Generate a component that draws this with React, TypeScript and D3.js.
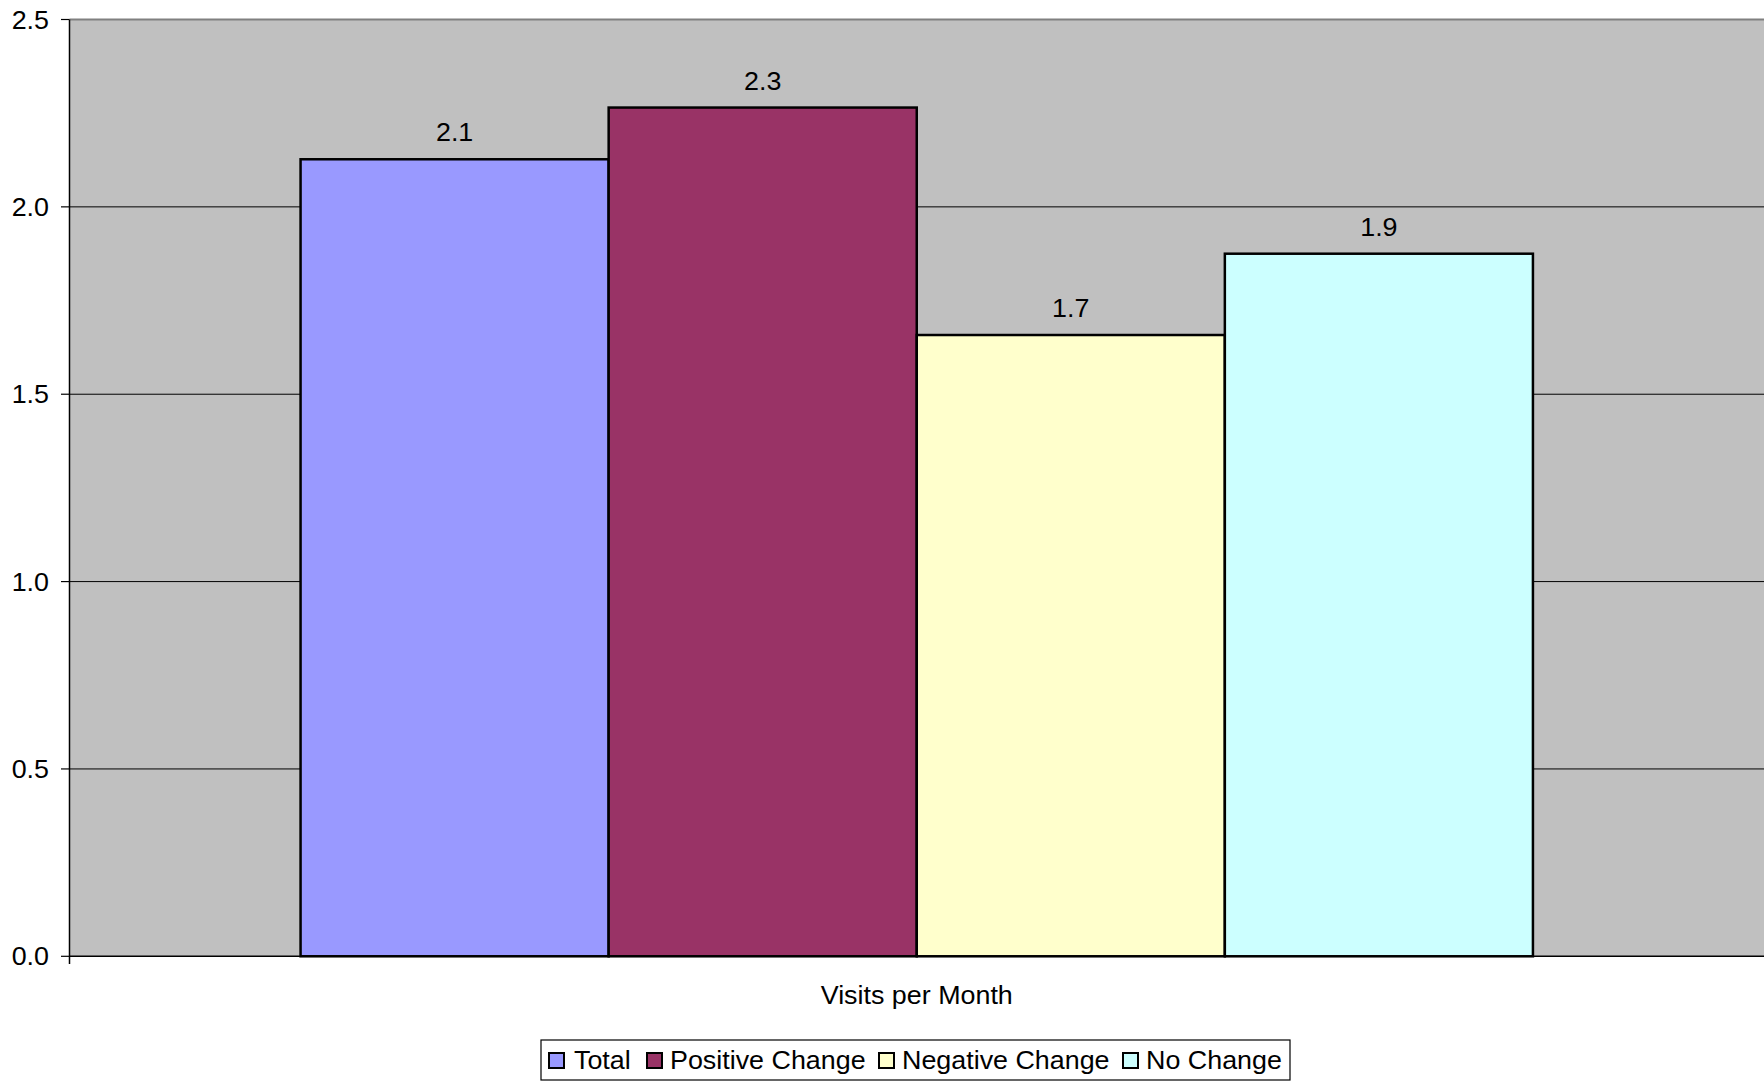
import React from "react";
import * as d3 from "d3";

const categories = ["Visits per Month"];
const seriesNames = ["Total", "Positive Change", "Negative Change", "No Change"];
const seriesValues = [2.127, 2.265, 1.658, 1.875];
const valueLabels = ["2.1", "2.3", "1.7", "1.9"];
const seriesColors = ["#9999FF", "#993366", "#FFFFCC", "#CCFFFF"];
const yTicks = [0, 0.5, 1, 1.5, 2, 2.5];

const W = 1764;
const H = 1082;
const FONT = "'Liberation Sans', Arial, sans-serif";
const SX = 1.075;

function T({ x, y, anchor, dy, children }: any) {
  return (
    <g transform={`translate(${x},${y}) scale(${SX},1)`}>
      <text x={0} y={0} dy={dy} textAnchor={anchor || "start"} fontSize={25} fill="#000">
        {children}
      </text>
    </g>
  );
}

export default function App() {
  const left = 69.5;
  const right = 1764;
  const top = 19.5;
  const bottom = 956.3;

  const y = d3.scaleLinear().domain([0, 2.5]).range([bottom, top]);
  const x0 = d3.scaleBand().domain(categories).range([left, right]).paddingInner(0).paddingOuter(0);
  const bw = x0.bandwidth();
  const barW = bw / (seriesNames.length + 1.5);
  const x1 = d3
    .scaleBand()
    .domain(seriesNames)
    .range([barW * 0.75, bw - barW * 0.75]);

  const legendItems = [
    { sw: 549, tx: 574 },
    { sw: 647, tx: 670 },
    { sw: 879, tx: 902 },
    { sw: 1123, tx: 1146 },
  ];

  return (
    <svg
      width={W}
      height={H}
      style={{ position: "absolute", left: 0, top: 0, display: "block", background: "#fff" }}
      fontFamily={FONT}
    >
      <rect x={left} y={top} width={right - left} height={bottom - top} fill="#C0C0C0" />
      {yTicks.map((t) => (
        <g key={t}>
          {t > 0 && t < 2.5 && (
            <line x1={left} x2={right} y1={y(t)} y2={y(t)} stroke="#000" strokeWidth={1} />
          )}
          <line x1={61} x2={left} y1={y(t)} y2={y(t)} stroke="#000" strokeWidth={1.2} />
          <T x={49} y={y(t)} dy="0.36em" anchor="end">
            {d3.format(".1f")(t)}
          </T>
        </g>
      ))}
      <line x1={left} x2={right} y1={top} y2={top} stroke="#808080" strokeWidth={2} />
      {categories.map((c) => (
        <g key={c}>
          {seriesNames.map((s, i) => {
            const bx = (x0(c) as number) + (x1(s) as number);
            return (
              <g key={s}>
                <rect
                  x={bx}
                  y={y(seriesValues[i])}
                  width={x1.bandwidth()}
                  height={bottom - y(seriesValues[i])}
                  fill={seriesColors[i]}
                  stroke="#000"
                  strokeWidth={2.5}
                />
                <T x={bx + x1.bandwidth() / 2} y={y(seriesValues[i]) - 18} anchor="middle">
                  {valueLabels[i]}
                </T>
              </g>
            );
          })}
          <T x={(x0(c) as number) + bw / 2} y={1004} anchor="middle">
            {c}
          </T>
        </g>
      ))}
      <line x1={left} x2={right} y1={bottom} y2={bottom} stroke="#000" strokeWidth={1.5} />
      <line x1={left} x2={left} y1={top} y2={964} stroke="#000" strokeWidth={1.5} />

      <rect x={541} y={1040} width={749} height={40} fill="#fff" stroke="#000" strokeWidth={1.2} />
      {seriesNames.map((s, i) => (
        <g key={s}>
          <rect
            x={legendItems[i].sw}
            y={1053}
            width={15}
            height={15}
            fill={seriesColors[i]}
            stroke="#000"
            strokeWidth={2}
          />
          <T x={legendItems[i].tx} y={1069}>
            {s}
          </T>
        </g>
      ))}
    </svg>
  );
}
